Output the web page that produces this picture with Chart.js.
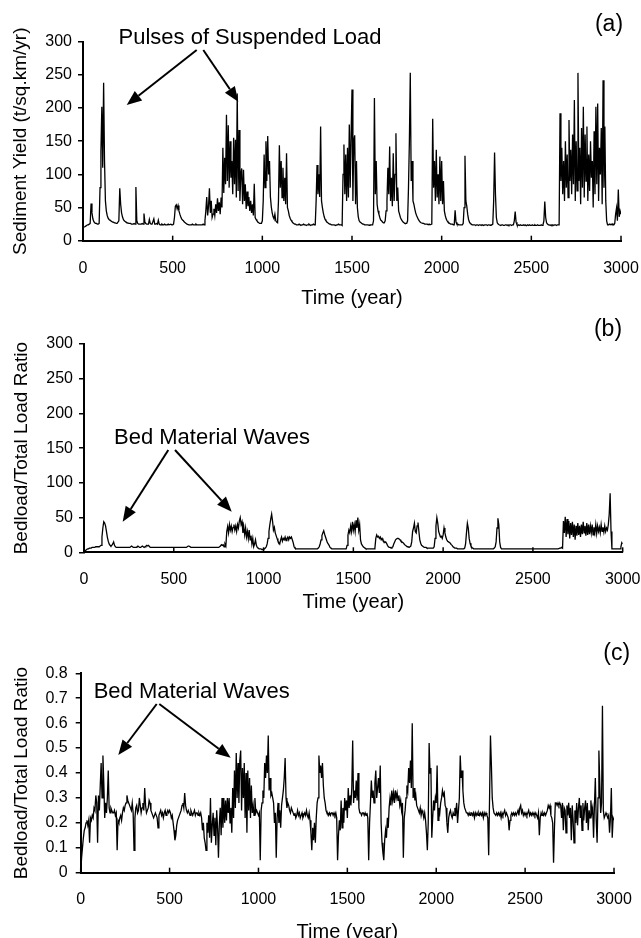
<!DOCTYPE html>
<html>
<head>
<meta charset="utf-8">
<script src="https://cdn.jsdelivr.net/npm/chart.js@4.4.0/dist/chart.umd.min.js"></script>
<style>
html,body{margin:0;padding:0;background:#fff;overflow:hidden;width:641px;height:938px;}
canvas{position:absolute;left:0;}
</style>
</head>
<body>
<canvas id="ca" style="top:0px" width="641" height="310"></canvas>
<canvas id="cb" style="top:310px" width="641" height="310"></canvas>
<canvas id="cc" style="top:620px" width="641" height="330"></canvas>
<script>
// ---- data (one value every 5 years, 0..3000) ----
const YEAR_STEP = 5;
const years = [];
for (let y = 0; y <= 3000; y += YEAR_STEP) years.push(y);

// (a) Sediment yield, t/sq.km/yr
const sedimentYield = [
/*0*/    20,20,21,22,23,24,24,25,26,56,
/*50*/   42,33,29,27,26,26,25,25,26,80,
/*100*/  135,202,110,238,120,60,45,38,34,32,
/*150*/  31,30,29,28,28,27,27,26,26,26,
/*200*/  30,79,55,42,36,32,30,29,28,27,
/*250*/  27,26,26,26,25,25,25,26,25,81,
/*300*/  30,26,25,25,25,25,26,25,41,28,
/*350*/  26,25,25,25,32,26,25,25,25,33,
/*400*/  25,25,26,25,31,25,24,24,25,24,
/*450*/  24,25,24,24,24,25,24,24,25,24,
/*500*/  24,25,35,52,54,48,53,45,40,36,
/*550*/  33,31,30,28,27,26,25,25,24,24,
/*600*/  24,24,25,24,24,24,25,24,24,24,
/*650*/  24,24,24,24,25,24,30,45,66,38,
/*700*/  52,79,42,60,35,40,48,38,55,42,
/*750*/  64,45,58,40,65,50,140,72,125,85,
/*800*/  190,90,174,80,150,95,120,70,155,85,
/*850*/  152,65,222,75,167,60,100,109,55,107,
/*900*/  60,85,48,74,52,66,45,60,42,55,
/*950*/  38,86,35,32,30,28,27,26,26,26,
/*1000*/ 30,60,130,80,150,90,158,100,120,66,
/*1050*/ 51,42,36,33,40,30,28,27,60,144,
/*1100*/ 80,120,65,110,60,95,55,132,50,45,
/*1150*/ 38,34,31,29,27,26,25,25,24,24,
/*1200*/ 24,25,24,23,24,24,25,24,24,23,
/*1250*/ 24,24,25,24,23,24,24,25,24,24,
/*1300*/ 60,114,70,100,66,172,60,50,42,36,
/*1350*/ 32,30,28,27,26,25,25,24,24,24,
/*1400*/ 24,24,23,24,24,25,24,24,24,23,
/*1450*/ 100,145,70,130,60,140,65,175,80,160,
/*1500*/ 228,60,150,159,55,120,50,36,30,28,
/*1550*/ 27,26,25,25,24,24,24,24,24,23,
/*1600*/ 24,24,24,24,30,215,70,120,55,45,
/*1650*/ 40,35,31,30,28,27,27,30,45,60,
/*1700*/ 110,70,142,60,95,52,132,60,100,162,
/*1750*/ 60,80,45,40,35,32,30,28,27,26,
/*1800*/ 26,26,30,80,150,253,90,120,60,55,
/*1850*/ 48,42,38,35,32,30,28,27,27,26,
/*1900*/ 26,25,25,25,25,24,25,24,24,25,
/*1950*/ 184,80,120,60,137,65,100,55,127,60,
/*2000*/ 120,55,90,45,38,33,30,28,27,26,
/*2050*/ 25,25,25,24,24,46,28,25,25,24,
/*2100*/ 24,24,24,24,26,50,128,60,52,40,
/*2150*/ 32,28,26,25,24,24,24,24,23,24,
/*2200*/ 24,23,24,24,23,24,24,23,24,24,
/*2250*/ 24,23,24,24,23,24,24,25,60,133,
/*2300*/ 70,35,27,25,24,24,23,24,24,23,
/*2350*/ 23,24,24,23,24,23,24,24,23,24,
/*2400*/ 24,30,44,28,24,23,24,23,24,23,
/*2450*/ 23,24,23,24,23,23,24,23,24,23,
/*2500*/ 23,24,23,23,24,23,23,24,23,23,
/*2550*/ 23,24,23,24,30,59,35,27,25,24,
/*2600*/ 24,23,24,23,24,23,24,24,23,24,
/*2650*/ 24,24,192,90,140,70,120,60,150,80,
/*2700*/ 130,65,182,90,137,70,160,85,212,60,
/*2750*/ 150,75,253,90,140,55,170,80,202,65,
/*2800*/ 160,90,172,60,130,75,150,95,120,50,
/*2850*/ 165,70,202,85,207,60,140,100,170,55,
/*2900*/ 242,80,172,60,30,24,24,25,24,25,
/*2950*/ 24,25,24,26,40,49,30,77,36,45,
/*3000*/ 40
];

// (b) Bedload/Total load ratio (upper panel)
const bedloadRatioB = [
/*0*/    0,2,3,4,5,5,6,6,6,7,
/*50*/   7,7,7,8,8,8,8,8,9,10,
/*100*/  22,35,44,42,38,30,22,16,12,10,
/*150*/  9,10,12,15,10,8,7,7,7,7,
/*200*/  7,7,7,7,7,7,7,7,7,7,
/*250*/  7,7,8,9,8,7,7,7,7,8,
/*300*/  9,8,7,7,8,9,8,7,8,9,
/*350*/  10,9,10,8,7,7,7,7,7,7,
/*400*/  7,7,7,7,7,7,7,7,7,7,
/*450*/  7,7,7,7,7,7,7,7,7,7,
/*500*/  7,7,7,7,7,7,7,7,7,7,
/*550*/  7,7,7,7,7,8,9,9,8,7,
/*600*/  7,7,7,7,7,7,7,7,7,7,
/*650*/  7,7,7,7,7,7,7,7,7,7,
/*700*/  7,7,7,7,7,7,7,7,7,7,
/*750*/  7,8,9,11,10,11,8,12,9,30,
/*800*/  37,28,40,32,38,30,36,40,32,38,
/*850*/  30,40,35,45,50,40,44,28,36,25,
/*900*/  35,22,30,20,32,18,24,12,20,8,
/*950*/  12,18,10,7,6,5,5,5,4,4,
/*1000*/ 4,5,6,8,12,20,30,40,48,55,
/*1050*/ 45,32,36,28,24,20,16,14,12,18,
/*1100*/ 22,16,20,18,22,17,20,22,18,22,
/*1150*/ 20,22,18,14,8,6,5,5,5,5,
/*1200*/ 5,5,5,5,5,5,5,5,5,5,
/*1250*/ 5,5,5,5,5,5,5,5,5,5,
/*1300*/ 5,6,8,12,18,24,28,31,26,22,
/*1350*/ 18,14,12,10,7,6,5,5,5,5,
/*1400*/ 5,5,5,5,5,5,5,5,5,5,
/*1450*/ 5,5,5,10,25,32,28,38,30,44,
/*1500*/ 32,40,30,46,35,50,32,40,18,12,
/*1550*/ 10,8,7,6,5,5,5,5,5,5,
/*1600*/ 5,5,5,5,6,20,25,22,23,20,
/*1650*/ 22,18,20,17,16,14,15,13,10,8,
/*1700*/ 7,7,6,7,8,12,15,18,19,20,
/*1750*/ 20,19,18,16,15,14,13,11,10,9,
/*1800*/ 8,8,7,7,9,15,30,35,42,30,
/*1850*/ 28,38,43,30,18,13,10,9,8,7,
/*1900*/ 7,7,6,6,6,6,6,6,6,6,
/*1950*/ 8,20,38,50,42,30,26,22,23,20,
/*2000*/ 25,35,28,22,18,16,15,14,13,11,
/*2050*/ 10,8,7,6,6,6,5,5,5,5,
/*2100*/ 5,5,5,5,6,12,28,42,35,20,
/*2150*/ 13,9,7,6,5,5,5,5,5,5,
/*2200*/ 5,5,5,5,5,5,5,5,5,5,
/*2250*/ 5,5,5,5,5,5,5,6,8,15,
/*2300*/ 35,49,40,15,7,5,5,5,5,5,
/*2350*/ 5,5,5,5,5,5,5,5,5,5,
/*2400*/ 5,5,5,5,5,5,5,5,5,5,
/*2450*/ 5,5,5,5,5,5,5,5,5,5,
/*2500*/ 5,5,5,5,5,5,5,5,5,5,
/*2550*/ 5,5,5,5,5,5,5,5,5,5,
/*2600*/ 5,5,5,5,5,5,5,5,5,5,
/*2650*/ 6,6,7,6,45,28,51,22,48,26,
/*2700*/ 45,20,42,25,44,22,40,18,38,24,
/*2750*/ 42,25,38,22,40,26,44,28,38,24,
/*2800*/ 42,25,40,26,38,28,40,25,36,28,
/*2850*/ 40,27,38,30,36,28,40,30,36,29,
/*2900*/ 38,30,35,32,40,55,85,30,5,5,
/*2950*/ 5,5,5,5,5,5,5,5,8,14,
/*3000*/ 12
];

// (c) Bedload/Total load ratio (lower panel)
const bedloadRatioC = [
/*0*/    0,.06,.10,.14,.17,.18,.20,.21,.19,.21,
/*50*/   .12,.22,.21,.23,.22,.26,.25,.31,.28,.12,
/*100*/  .31,.25,.35,.44,.30,.47,.36,.22,.28,.24,
/*150*/  .30,.41,.26,.24,.26,.25,.24,.24,.25,.23,
/*200*/  .24,.09,.21,.20,.22,.23,.21,.24,.26,.25,
/*250*/  .27,.28,.31,.29,.28,.27,.26,.25,.28,.24,
/*300*/  .09,.22,.26,.27,.24,.25,.30,.27,.24,.26,
/*350*/  .28,.25,.34,.27,.24,.25,.26,.29,.28,.25,
/*400*/  .24,.23,.22,.23,.24,.23,.22,.18,.23,.24,
/*450*/  .25,.23,.24,.22,.24,.25,.23,.24,.25,.24,
/*500*/  .25,.24,.22,.23,.20,.17,.13,.15,.19,.21,
/*550*/  .22,.23,.24,.25,.27,.28,.26,.32,.27,.25,
/*600*/  .24,.25,.24,.23,.25,.24,.23,.24,.25,.23,
/*650*/  .24,.24,.23,.24,.23,.24,.22,.17,.20,.14,
/*700*/  .12,.09,.20,.16,.23,.14,.30,.12,.19,.24,
/*750*/  .15,.22,.11,.25,.18,.06,.20,.26,.15,.30,
/*800*/  .18,.30,.20,.29,.21,.30,.24,.30,.20,.26,
/*850*/  .16,.34,.22,.41,.26,.48,.30,.44,.28,.45,
/*900*/  .49,.25,.42,.30,.44,.22,.40,.16,.41,.25,
/*950*/  .38,.22,.35,.24,.27,.23,.30,.24,.25,.24,
/*1000*/ .23,.24,.05,.25,.28,.33,.30,.44,.38,.47,
/*1050*/ .40,.55,.33,.38,.31,.32,.30,.28,.20,.24,
/*1100*/ .06,.22,.28,.20,.25,.18,.27,.30,.33,.38,
/*1150*/ .46,.30,.26,.28,.27,.25,.24,.26,.25,.24,
/*1200*/ .23,.24,.22,.23,.25,.23,.24,.22,.23,.24,
/*1250*/ .22,.23,.24,.23,.25,.23,.22,.24,.21,.16,
/*1300*/ .09,.18,.13,.20,.12,.22,.28,.30,.47,.40,
/*1350*/ .43,.38,.44,.35,.30,.28,.25,.24,.24,.23,
/*1400*/ .24,.23,.24,.24,.23,.24,.23,.24,.22,.05,
/*1450*/ .15,.21,.17,.29,.18,.26,.20,.30,.25,.29,
/*1500*/ .22,.34,.26,.31,.27,.34,.53,.28,.33,.30,
/*1550*/ .37,.29,.40,.26,.24,.24,.23,.24,.24,.23,
/*1600*/ .24,.23,.24,.22,.05,.20,.28,.37,.30,.33,
/*1650*/ .28,.36,.41,.30,.34,.38,.32,.43,.20,.12,
/*1700*/ .08,.05,.13,.17,.14,.22,.18,.26,.30,.27,
/*1750*/ .33,.29,.32,.28,.33,.30,.32,.29,.31,.27,
/*1800*/ .29,.25,.28,.06,.22,.25,.30,.35,.33,.42,
/*1850*/ .36,.45,.34,.60,.30,.34,.29,.31,.27,.26,
/*1900*/ .25,.24,.26,.23,.25,.24,.22,.24,.21,.16,
/*1950*/ .09,.20,.52,.40,.42,.14,.22,.29,.25,.30,
/*2000*/ .28,.43,.21,.26,.24,.28,.30,.33,.31,.32,
/*2050*/ .27,.26,.20,.16,.22,.24,.25,.23,.22,.24,
/*2100*/ .23,.26,.24,.28,.20,.25,.30,.47,.38,.41,
/*2150*/ .33,.28,.26,.25,.24,.24,.23,.24,.23,.24,
/*2200*/ .24,.23,.24,.22,.24,.23,.24,.23,.24,.23,
/*2250*/ .24,.23,.24,.22,.24,.23,.24,.23,.22,.07,
/*2300*/ .30,.55,.44,.30,.26,.24,.24,.23,.24,.23,
/*2350*/ .24,.23,.24,.22,.24,.23,.24,.25,.23,.24,
/*2400*/ .23,.22,.17,.21,.23,.24,.23,.24,.23,.24,
/*2450*/ .23,.24,.25,.23,.26,.27,.24,.25,.23,.24,
/*2500*/ .23,.24,.23,.24,.25,.23,.24,.23,.24,.23,
/*2550*/ .24,.23,.24,.23,.22,.24,.15,.22,.24,.23,
/*2600*/ .24,.23,.24,.23,.24,.25,.27,.26,.27,.23,
/*2650*/ .22,.20,.04,.18,.28,.28,.27,.28,.27,.28,
/*2700*/ .27,.22,.28,.17,.26,.25,.16,.27,.23,.28,
/*2750*/ .22,.26,.13,.27,.21,.12,.25,.20,.28,.19,
/*2800*/ .26,.30,.22,.27,.17,.28,.21,.26,.29,.20,
/*2850*/ .28,.17,.25,.22,.29,.24,.26,.14,.27,.38,
/*2900*/ .21,.12,.30,.49,.36,.24,.28,.67,.25,.22,
/*2950*/ .23,.24,.23,.22,.23,.16,.22,.34,.14,.22,
/*3000*/ .21
];

const xAxisTitle = 'Time (year)';
const yTitleA = 'Sediment Yield (t/sq.km/yr)';
const yTitleB = 'Bedload/Total Load Ratio';
const yTitleC = 'Bedload/Total Load Ratio';

[sedimentYield, bedloadRatioB, bedloadRatioC].forEach((a, i) => {
  if (a.length !== years.length) throw new Error('series ' + i + ' length ' + a.length + ' vs ' + years.length);
});

// ---- drawing ----
const FONT = '"Liberation Sans", Arial, Helvetica, sans-serif';
Chart.defaults.font.family = FONT;
Chart.defaults.color = '#000';

function drawArrow(ctx, x1, y1, x2, y2) {
  const a = Math.atan2(y2 - y1, x2 - x1), L = 15, W = 6;
  const bx = x2 - L * Math.cos(a), by = y2 - L * Math.sin(a);
  ctx.lineWidth = 2;
  ctx.beginPath(); ctx.moveTo(x1, y1); ctx.lineTo(bx, by); ctx.stroke();
  ctx.beginPath();
  ctx.moveTo(x2, y2);
  ctx.lineTo(bx - W * Math.sin(a), by + W * Math.cos(a));
  ctx.lineTo(bx + W * Math.sin(a), by - W * Math.cos(a));
  ctx.closePath(); ctx.fill();
}

function decorPlugin(d) {
  return {
    id: 'decor',
    afterDraw(chart) {
      const { ctx, chartArea, scales: { x } } = chart;
      ctx.save();
      ctx.strokeStyle = '#000'; ctx.fillStyle = '#000';
      ctx.lineWidth = 1.5;
      for (const t of x.ticks) {
        const px = x.getPixelForValue(t.value);
        ctx.beginPath(); ctx.moveTo(px, chartArea.bottom); ctx.lineTo(px, chartArea.bottom - 5); ctx.stroke();
      }
      ctx.textAlign = 'center'; ctx.textBaseline = 'middle';
      ctx.font = '22px ' + FONT;
      ctx.fillText(d.note, d.noteX, d.noteY);
      for (const a of d.arrows) drawArrow(ctx, a[0], a[1], a[2], a[3]);
      ctx.font = '23px ' + FONT;
      ctx.fillText(d.tag, d.tagX, d.tagY);
      ctx.restore();
    }
  };
}

function makePanel(id, values, c) {
  const pts = values.map((v, i) => ({ x: years[i], y: v }));
  return new Chart(document.getElementById(id), {
    type: 'line',
    data: { datasets: [{ data: pts, borderColor: '#000', borderWidth: 1.3, pointRadius: 0, tension: 0, fill: false }] },
    options: {
      responsive: false, animation: false, devicePixelRatio: 1, events: [],
      plugins: { legend: { display: false }, tooltip: { enabled: false } },
      layout: { padding: { top: c.top, right: c.right, left: 0, bottom: 0 } },
      scales: {
        x: {
          type: 'linear', min: 0, max: 3000,
          afterFit(s) { s.height = c.xh; s.paddingRight = 10; s.paddingLeft = 0; },
          ticks: { stepSize: 500, padding: c.xpad, color: '#000', font: { size: 16 }, maxRotation: 0, autoSkip: false, callback: v => String(v) },
          grid: { display: false },
          border: { display: true, color: '#000', width: 2 },
          title: { display: true, text: xAxisTitle, color: '#000', font: { size: 20 }, padding: { top: 0, bottom: c.tpb } }
        },
        y: {
          type: 'linear', min: 0, max: c.ymax,
          afterFit(s) { s.width = c.left; },
          ticks: { stepSize: c.ystep, padding: c.ypad, color: '#000', font: { size: 16 }, autoSkip: false, callback: v => String(v) },
          grid: { drawOnChartArea: false, drawTicks: true, tickLength: 5, color: '#000', lineWidth: 1.5 },
          border: { display: true, color: '#000', width: 2 },
          title: { display: true, text: c.ytitle, color: '#000', font: { size: 19 }, padding: { top: c.ytp, bottom: 0 } }
        }
      }
    },
    plugins: [decorPlugin(c.deco)]
  });
}

makePanel('ca', sedimentYield, {
  top: 41.7, right: 20, left: 83, xh: 69.3, xpad: 10.4, tpb: 0, ymax: 300, ystep: 50, ypad: 6, ytp: 9.3, ytitle: yTitleA,
  deco: { note: 'Pulses of Suspended Load', noteX: 250, noteY: 38,
          arrows: [[196.7, 50, 126.7, 105], [203.3, 50, 238.3, 101.7]], tag: '(a)', tagX: 609, tagY: 25 }
});
makePanel('cb', bedloadRatioB, {
  top: 34, right: 18.3, left: 84, xh: 67.7, xpad: 10.1, tpb: 6, ymax: 300, ystep: 50, ypad: 6, ytp: 10.6, ytitle: yTitleB,
  deco: { note: 'Bed Material Waves', noteX: 212, noteY: 128.3,
          arrows: [[168.3, 140, 122.7, 211.7], [175, 140, 231.7, 201.7]], tag: '(b)', tagX: 608, tagY: 20 }
});
makePanel('cc', bedloadRatioC, {
  top: 53.3, right: 27, left: 80.7, xh: 77.3, xpad: 9.4, tpb: 6, ymax: 0.8, ystep: 0.1, ypad: 8, ytp: 10.6, ytitle: yTitleC,
  deco: { note: 'Bed Material Waves', noteX: 191.7, noteY: 71.7,
          arrows: [[156.7, 84, 118.3, 135], [159.3, 84, 230.7, 137.7]], tag: '(c)', tagX: 616.7, tagY: 33.3 }
});
</script>
</body>
</html>
